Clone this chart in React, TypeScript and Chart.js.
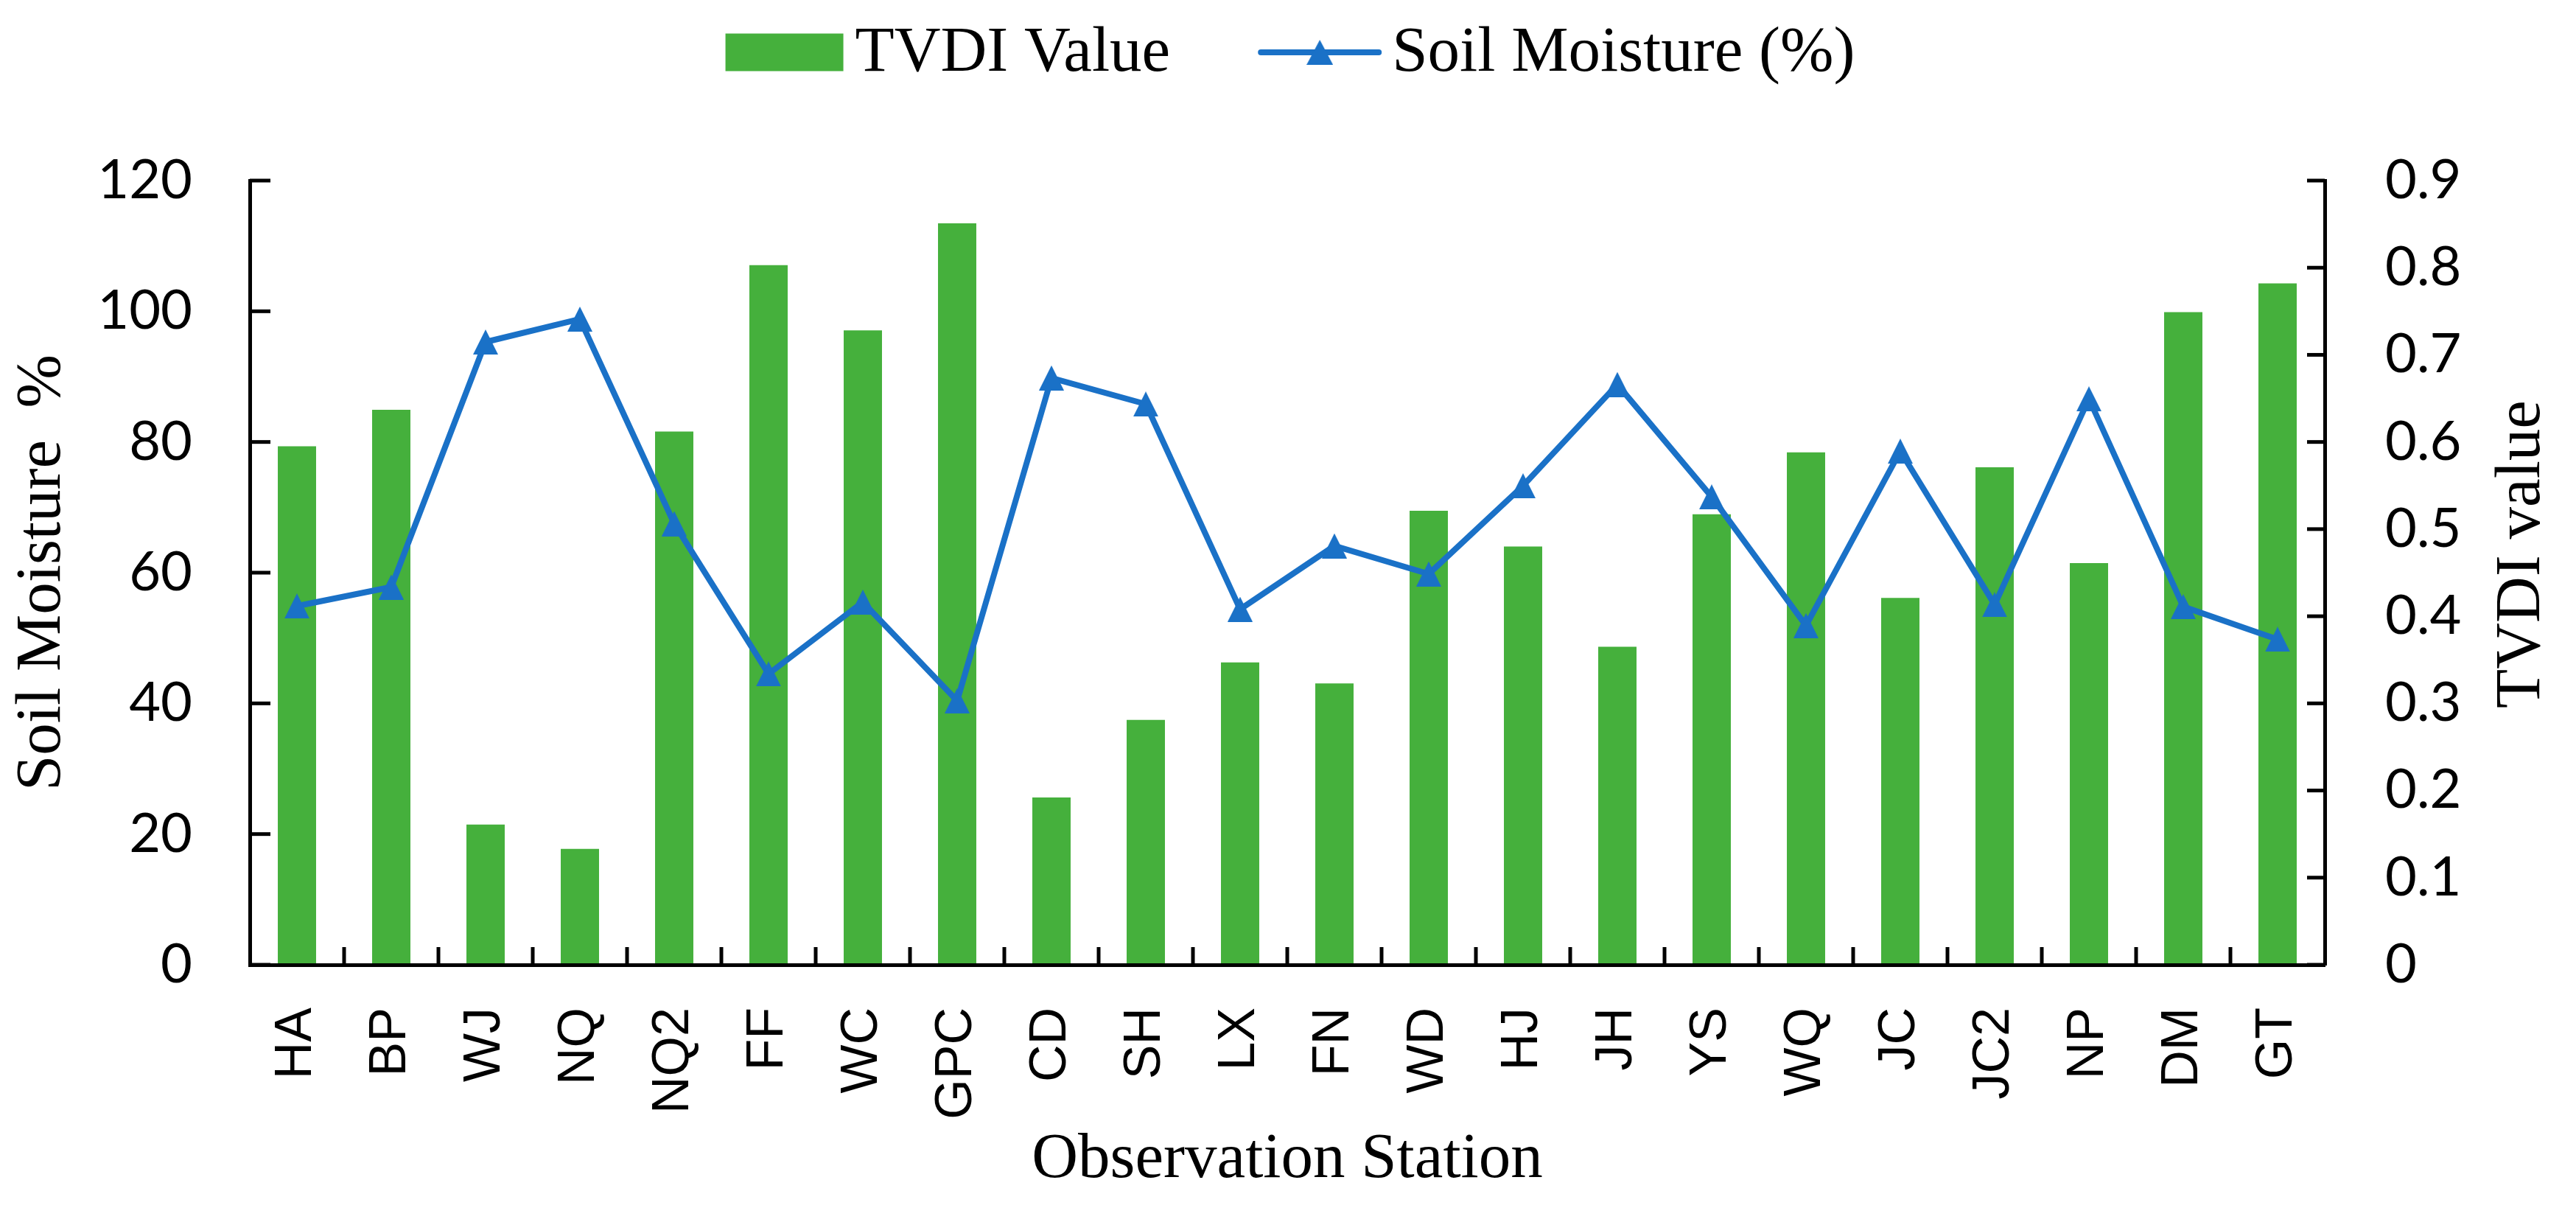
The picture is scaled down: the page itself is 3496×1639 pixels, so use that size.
import React, { useEffect, useRef } from "react";
import { Chart, registerables } from "chart.js";

Chart.register(...registerables);

// ---------------- data ----------------
const stations = ["HA", "BP", "WJ", "NQ", "NQ2", "FF", "WC", "GPC", "CD", "SH", "LX", "FN", "WD", "HJ", "JH", "YS", "WQ", "JC", "JC2", "NP", "DM", "GT"];
const tvdiValues = [0.595, 0.637, 0.161, 0.133, 0.612, 0.803, 0.728, 0.851, 0.192, 0.281, 0.347, 0.323, 0.521, 0.48, 0.365, 0.517, 0.588, 0.421, 0.571, 0.461, 0.749, 0.782];
const soilMoisture = [54.9, 57.8, 95.3, 98.8, 67.5, 44.5, 55.5, 40.4, 89.8, 85.8, 54.4, 64.1, 59.8, 73.3, 88.8, 71.6, 51.9, 78.6, 55.1, 86.6, 54.8, 49.8];
const moistureTicks = [0, 20, 40, 60, 80, 100, 120];
const tvdiTicks = [0, 0.1, 0.2, 0.3, 0.4, 0.5, 0.6, 0.7, 0.8, 0.9];

const barLabel = "TVDI Value";
const lineLabel = "Soil Moisture (%)";
const xTitle = "Observation Station";
const yTitle = "Soil Moisture  %";
const y1Title = "TVDI value";

// ---------------- styles ----------------
const GREEN = "#45B03C";
const BLUE = "#1A71C7";
const SERIF = "'Liberation Serif', 'Times New Roman', serif";
const TICKFONT = "Lato, 'Noto Sans', sans-serif";
const SANS = "'Liberation Sans', Arial, sans-serif";
const SERIF_SIZE = 87;

function makeTriangle(w: number, h: number, color: string) {
  const c = document.createElement("canvas");
  c.width = w;
  c.height = h;
  const g = c.getContext("2d")!;
  g.fillStyle = color;
  g.beginPath();
  g.moveTo(w / 2, 0);
  g.lineTo(w, h);
  g.lineTo(0, h);
  g.closePath();
  g.fill();
  return c;
}

export default function App() {
  const ref = useRef<HTMLCanvasElement | null>(null);

  useEffect(() => {
    if (!ref.current) return;
    const pointTri = makeTriangle(34, 34, BLUE);
    const legendTri = makeTriangle(36, 34, BLUE);

    const inwardTicks = {
      id: "inwardTicks",
      afterDraw(chart: any) {
        const { ctx, chartArea, scales } = chart;
        ctx.save();
        ctx.strokeStyle = "#000";
        ctx.lineWidth = 5;
        ctx.lineCap = "butt";
        const y = scales.y;
        y.ticks.forEach((_t: any, i: number) => {
          const py = y.getPixelForTick(i);
          ctx.beginPath();
          ctx.moveTo(chartArea.left, py);
          ctx.lineTo(chartArea.left + 28, py);
          ctx.stroke();
        });
        const y1 = scales.y1;
        y1.ticks.forEach((_t: any, i: number) => {
          const py = y1.getPixelForTick(i);
          ctx.beginPath();
          ctx.moveTo(chartArea.right - 24, py);
          ctx.lineTo(chartArea.right, py);
          ctx.stroke();
        });
        const x = scales.x;
        for (let i = 1; i < stations.length; i++) {
          const px = x.getPixelForValue(i - 0.5);
          ctx.beginPath();
          ctx.moveTo(px, chartArea.bottom);
          ctx.lineTo(px, chartArea.bottom - 24);
          ctx.stroke();
        }
        ctx.restore();
      },
    };

    const extras = {
      id: "extras",
      afterDraw(chart: any) {
        const { ctx, chartArea, scales } = chart;
        const barDs = chart.data.datasets[0];
        const lineDs = chart.data.datasets[1];
        ctx.save();
        ctx.font = `${SERIF_SIZE}px ${SERIF}`;
        ctx.fillStyle = "#000";
        // right axis title, reading bottom to top
        ctx.save();
        ctx.translate(scales.y1.left + 268, (chartArea.top + chartArea.bottom) / 2 - 25);
        ctx.rotate(-Math.PI / 2);
        ctx.textAlign = "center";
        ctx.textBaseline = "middle";
        ctx.fillText(y1Title, 0, 0);
        ctx.restore();

        // legend
        const w1 = ctx.measureText(barDs.label).width;
        const w2 = ctx.measureText(lineDs.label).width;
        const boxW = 160, boxH = 51, gap1 = 16, gapItems = 119, lineW = 168, gap2 = 14;
        const total = boxW + gap1 + w1 + gapItems + lineW + gap2 + w2;
        const cx = (chartArea.left + chartArea.right) / 2 + 4;
        let x = cx - total / 2;
        const midY = 71;
        const baseY = 96;
        ctx.textAlign = "left";
        ctx.textBaseline = "alphabetic";
        ctx.fillStyle = barDs.backgroundColor;
        ctx.fillRect(x, midY - boxH / 2, boxW, boxH);
        x += boxW + gap1;
        ctx.fillStyle = "#000";
        ctx.fillText(barDs.label, x, baseY);
        x += w1 + gapItems;
        ctx.strokeStyle = lineDs.borderColor;
        ctx.lineWidth = 8;
        ctx.lineCap = "round";
        ctx.beginPath();
        ctx.moveTo(x + 4, midY);
        ctx.lineTo(x + lineW - 4, midY);
        ctx.stroke();
        ctx.drawImage(legendTri, x + lineW / 2 - 18, midY - 17);
        x += lineW + gap2;
        ctx.fillText(lineDs.label, x, baseY);
        ctx.restore();
      },
    };

    const chart = new Chart(ref.current, {
      type: "bar",
      data: {
        labels: stations,
        datasets: [
          {
            type: "bar",
            label: barLabel,
            data: tvdiValues,
            backgroundColor: GREEN,
            borderWidth: 0,
            yAxisID: "y1",
            categoryPercentage: 1,
            barPercentage: 0.406,
            order: 2,
          } as any,
          {
            type: "line",
            label: lineLabel,
            data: soilMoisture,
            borderColor: BLUE,
            backgroundColor: BLUE,
            borderWidth: 8,
            borderJoinStyle: "round",
            borderCapStyle: "round",
            tension: 0,
            pointStyle: pointTri,
            pointRadius: 17,
            yAxisID: "y",
            order: 1,
          } as any,
        ],
      },
      options: {
        animation: false,
        responsive: true,
        maintainAspectRatio: false,
        devicePixelRatio: 1,
        layout: { padding: 0 },
        plugins: {
          legend: { display: false },
          tooltip: { enabled: false },
        },
        scales: {
          x: {
            type: "category",
            offset: true,
            grid: { display: false, drawTicks: false, tickLength: 0, offset: true },
            border: { display: true, color: "#000", width: 5, z: 1 },
            ticks: {
              autoSkip: false,
              minRotation: 90,
              maxRotation: 90,
              padding: 58,
              color: "#000",
              font: { family: SANS, size: 70 },
            },
            title: {
              display: true,
              text: xTitle,
              color: "#000",
              font: { family: SERIF, size: SERIF_SIZE, lineHeight: 1.2 },
              padding: { top: 0, bottom: 13 },
            },
            afterFit: (s: any) => {
              s.height = 330;
            },
          },
          y: {
            type: "linear",
            position: "left",
            min: 0,
            max: 120,
            afterBuildTicks: (s: any) => {
              s.ticks = moistureTicks.map((v) => ({ value: v }));
            },
            grid: { display: false, drawTicks: false, tickLength: 0 },
            border: { display: true, color: "#000", width: 5, z: 1 },
            ticks: {
              padding: 78,
              color: "#000",
              font: { family: TICKFONT, size: 74 },
              callback: (v: any) => String(v),
            },
            title: {
              display: true,
              text: yTitle,
              color: "#000",
              font: { family: SERIF, size: SERIF_SIZE, lineHeight: 1.2 },
              padding: { top: 6, bottom: 0 },
            },
            afterFit: (s: any) => {
              s.width = 339;
              s.paddingTop = 245;
            },
          },
          y1: {
            type: "linear",
            position: "right",
            min: 0,
            max: 0.9,
            afterBuildTicks: (s: any) => {
              s.ticks = tvdiTicks.map((v) => ({ value: v }));
            },
            grid: { display: false, drawTicks: false, tickLength: 0 },
            border: { display: true, color: "#000", width: 5, z: 1 },
            ticks: {
              padding: 82,
              color: "#000",
              font: { family: TICKFONT, size: 74 },
              callback: (v: any) => String(Math.round(Number(v) * 10) / 10),
            },
            afterFit: (s: any) => {
              s.width = 341;
            },
          },
        },
      } as any,
      plugins: [inwardTicks, extras],
    });

    return () => chart.destroy();
  }, []);

  return (
    <div style={{ position: "absolute", left: 0, top: 0, width: 3496, height: 1639, background: "#fff" }}>
      <canvas ref={ref} />
    </div>
  );
}
